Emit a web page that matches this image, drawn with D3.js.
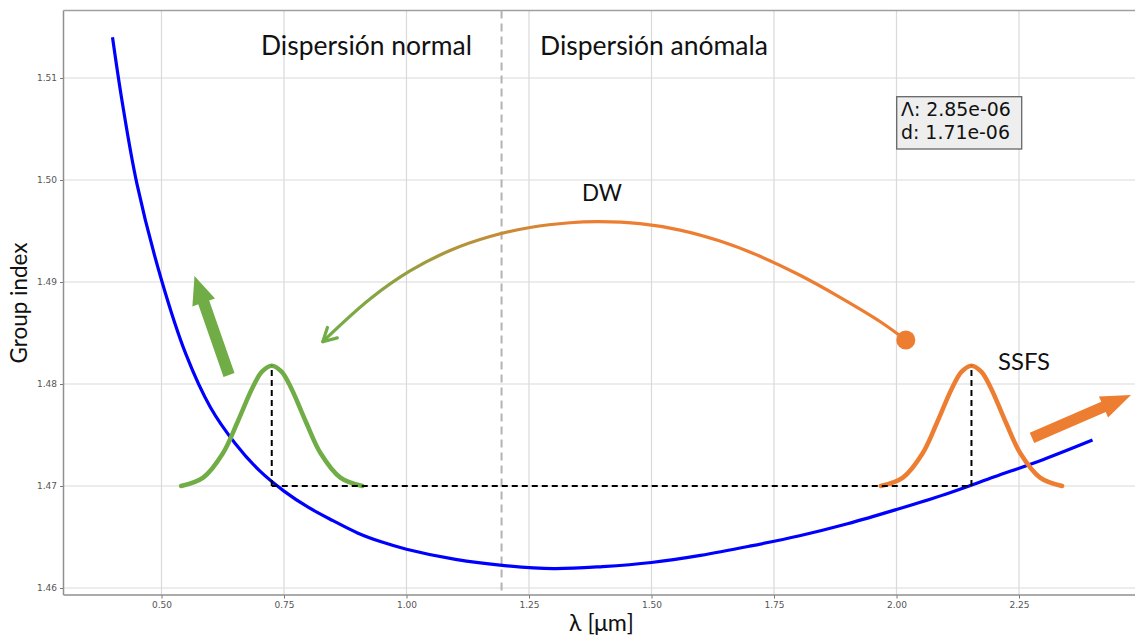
<!DOCTYPE html>
<html><head><meta charset="utf-8">
<script src="https://cdn.jsdelivr.net/npm/d3@7"></script>
<style>html,body{margin:0;padding:0;background:#fff;} svg{display:block;}</style>
</head><body>
<svg id="c" width="1135" height="637"></svg>
<script>
// ---- data ----
const lambda     = [0.40, 0.42, 0.45, 0.50, 0.55, 0.60, 0.65, 0.70, 0.75, 0.80, 0.85, 0.90, 0.95, 1.00, 1.10, 1.20, 1.30, 1.40, 1.50, 1.60, 1.70, 1.80, 1.90, 2.00, 2.10, 2.20, 2.30, 2.40];
const groupIndex = [1.5140, 1.5076, 1.4996, 1.4902, 1.4829, 1.4777, 1.4742, 1.4715, 1.4695, 1.4679, 1.4666, 1.4654, 1.4645, 1.4638, 1.4628, 1.4622, 1.4619, 1.4621, 1.4625, 1.4632, 1.4641, 1.4651, 1.4663, 1.4677, 1.4692, 1.4709, 1.4726, 1.4745];
const xTicks = [0.50, 0.75, 1.00, 1.25, 1.50, 1.75, 2.00, 2.25];
const yTicks = [1.46, 1.47, 1.48, 1.49, 1.50, 1.51];
const zdw = 1.194;
// pulses (DW green, soliton orange)
const pulseCenters = [0.725, 2.153];
const pulseBase = 1.47;
const pulsePeak = 1.4818;
const pulseOffset = [-0.185, -0.14, -0.10, -0.07, -0.04, -0.02, 0, 0.02, 0.04, 0.07, 0.10, 0.14, 0.185];
const pulseShape  = [0.0, 0.07, 0.27, 0.53, 0.81, 0.95, 1, 0.95, 0.81, 0.53, 0.27, 0.07, 0.0];
// DW arc path (lambda, n), from the orange dot to the green arrow tip
const arcLambda = [2.0190, 1.9663, 1.8847, 1.8031, 1.7214, 1.6398, 1.5582, 1.4765, 1.3924, 1.3337, 1.2520, 1.1704, 1.0888, 1.0071, 0.9255, 0.8292];
const arcIndex  = [1.48431, 1.48613, 1.48850, 1.49066, 1.49252, 1.49401, 1.49509, 1.49572, 1.49591, 1.49581, 1.49534, 1.49446, 1.49309, 1.49108, 1.48833, 1.48415];
// fat arrows [tail lambda, tail n, tip lambda, tip n]
const greenArrow  = [0.6378, 1.48088, 0.5673, 1.49059];
const orangeArrow = [2.2765, 1.47471, 2.4786, 1.47892];
const boxLines = ["Λ: 2.85e-06", "d: 1.71e-06"];

// ---- layout ----
const svg = d3.select("#c");
const L = 63.5, R = 1141.5, T = 10.5, B = 595;
const x = d3.scaleLinear().domain([0.3, 2.5]).range([L, R]);
const y = d3.scaleLinear().domain([1.459314, 1.516618]).range([B, T]);
const GREEN = "#70AD47", ORANGE = "#ED7D31";

// grid
const g = svg.append("g");
g.selectAll("line.gx").data(xTicks).join("line")
  .attr("x1", d => x(d)).attr("x2", d => x(d)).attr("y1", T).attr("y2", B)
  .attr("stroke", "#d9d9d9").attr("stroke-width", 1.2);
g.selectAll("line.gy").data(yTicks).join("line")
  .attr("x1", L).attr("x2", R).attr("y1", d => y(d)).attr("y2", d => y(d))
  .attr("stroke", "#d9d9d9").attr("stroke-width", 1.2);

// axes
const xa = svg.append("g").attr("transform", `translate(0,${B})`)
  .call(d3.axisBottom(x).tickValues(xTicks).tickFormat(d3.format(".2f")).tickSize(3.5).tickPadding(3));
const ya = svg.append("g").attr("transform", `translate(${L},0)`)
  .call(d3.axisLeft(y).tickValues(yTicks).tickFormat(d3.format(".2f")).tickSize(3.5).tickPadding(3));
[xa, ya].forEach(a => {
  a.select(".domain").remove();
  a.selectAll(".tick line").attr("stroke", "#777").attr("stroke-width", 1);
  a.selectAll(".tick text").attr("font-family", "DejaVu Sans").attr("font-size", 9).attr("fill", "#555");
});
// spines
svg.append("line").attr("x1", L).attr("x2", L).attr("y1", T).attr("y2", B).attr("stroke", "#8f8f8f").attr("stroke-width", 1.5);
svg.append("line").attr("x1", L).attr("x2", R).attr("y1", B).attr("y2", B).attr("stroke", "#8f8f8f").attr("stroke-width", 1.5);
svg.append("line").attr("x1", L).attr("x2", R).attr("y1", T).attr("y2", T).attr("stroke", "#a0a0a0").attr("stroke-width", 1.5);

// ZDW dashed line
svg.append("line").attr("x1", x(zdw)).attr("x2", x(zdw)).attr("y1", T).attr("y2", B)
  .attr("stroke", "#b3b3b3").attr("stroke-width", 2).attr("stroke-dasharray", "8,5");

// blue group index curve
const pts = lambda.map((l, i) => [l, groupIndex[i]]);
svg.append("path").datum(pts)
  .attr("d", d3.line().x(d => x(d[0])).y(d => y(d[1])).curve(d3.curveCatmullRom.alpha(0.5)))
  .attr("fill", "none").attr("stroke", "#0000ff").attr("stroke-width", 3.2);

// pulses
const pulseLine = d3.line().x(d => x(d[0])).y(d => y(d[1])).curve(d3.curveCatmullRom.alpha(0.5));
[GREEN, ORANGE].forEach((col, k) => {
  const c = pulseCenters[k];
  const p = pulseOffset.map((o, i) => [c + o, pulseBase + (pulsePeak - pulseBase) * pulseShape[i]]);
  svg.append("path").attr("d", pulseLine(p)).attr("fill", "none")
    .attr("stroke", col).attr("stroke-width", 4.5).attr("stroke-linecap", "round");
});

// black dashed lines
const dash = (x1, y1, x2, y2) => svg.append("line")
  .attr("x1", x(x1)).attr("y1", y(y1)).attr("x2", x(x2)).attr("y2", y(y2))
  .attr("stroke", "#000").attr("stroke-width", 2).attr("stroke-dasharray", "6,4");
dash(pulseCenters[0], pulseBase, pulseCenters[1], pulseBase);
dash(pulseCenters[0], pulseBase, pulseCenters[0], pulsePeak);
dash(pulseCenters[1], pulseBase, pulseCenters[1], pulsePeak);

// DW arc with gradient
const defs = svg.append("defs");
const grad = defs.append("linearGradient").attr("id", "arcg").attr("gradientUnits", "userSpaceOnUse")
  .attr("x1", x(0.84)).attr("x2", x(1.36)).attr("y1", 0).attr("y2", 0);
grad.append("stop").attr("offset", 0).attr("stop-color", GREEN);
grad.append("stop").attr("offset", 1).attr("stop-color", ORANGE);
const arcPts = arcLambda.map((l, i) => [x(l), y(arcIndex[i])]);
const arcPath = svg.append("path").attr("d", d3.line().curve(d3.curveCatmullRom.alpha(0.5))(arcPts))
  .attr("fill", "none").attr("stroke", "url(#arcg)").attr("stroke-width", 3.2).attr("stroke-linecap", "round");
// arrowhead at the green end
{
  const node = arcPath.node(), len = node.getTotalLength();
  const tip = node.getPointAtLength(len), pre = node.getPointAtLength(len - 8);
  const a = Math.atan2(tip.y - pre.y, tip.x - pre.x);
  const hl = 15, sp = 0.5;
  const b1 = [tip.x - hl * Math.cos(a - sp), tip.y - hl * Math.sin(a - sp)];
  const b2 = [tip.x - hl * Math.cos(a + sp), tip.y - hl * Math.sin(a + sp)];
  svg.append("path").attr("d", `M${b1[0]},${b1[1]}L${tip.x},${tip.y}L${b2[0]},${b2[1]}`)
    .attr("fill", "none").attr("stroke", GREEN).attr("stroke-width", 3.2)
    .attr("stroke-linecap", "round").attr("stroke-linejoin", "round");
}
// orange dot
svg.append("circle").attr("cx", x(arcLambda[0])).attr("cy", y(arcIndex[0])).attr("r", 9.5).attr("fill", ORANGE);

// fat arrows
function fatArrow(a, sw, hw, hl) {
  const x0 = x(a[0]), y0 = y(a[1]), x1 = x(a[2]), y1 = y(a[3]);
  const dx = x1 - x0, dy = y1 - y0, Ln = Math.hypot(dx, dy), ux = dx / Ln, uy = dy / Ln, px = -uy, py = ux;
  const bx = x1 - ux * hl, by = y1 - uy * hl;
  return [[x0 + px * sw, y0 + py * sw], [bx + px * sw, by + py * sw], [bx + px * hw, by + py * hw], [x1, y1],
          [bx - px * hw, by - py * hw], [bx - px * sw, by - py * sw], [x0 - px * sw, y0 - py * sw]];
}
svg.append("polygon").attr("points", fatArrow(greenArrow, 5.8, 12, 28).join(" ")).attr("fill", GREEN);
svg.append("polygon").attr("points", fatArrow(orangeArrow, 5.6, 11.5, 30).join(" ")).attr("fill", ORANGE);

// annotation texts (fit to measured widths)
function fitText(txt, x0, yb, w, fam, size) {
  const t = svg.append("text").attr("x", x0).attr("y", yb).attr("font-family", fam)
    .attr("font-size", size).attr("fill", "#111").text(txt);
  const cur = t.node().getComputedTextLength();
  t.attr("font-size", size * w / cur);
  return t;
}
const FAM = "Lato, 'Open Sans', sans-serif";
fitText("Dispersión normal", 261, 55, 211, FAM, 24);
fitText("Dispersión anómala", 540, 55, 228, FAM, 24);
fitText("DW", 582, 201, 40, FAM, 24);
fitText("SSFS", 998, 370, 52, FAM, 24);

// axis labels
{
  const t = svg.append("text").attr("transform", `translate(27,303) rotate(-90)`).attr("text-anchor", "middle")
    .attr("font-family", FAM).attr("font-size", 20).attr("fill", "#111").text("Group index");
  const cur = t.node().getComputedTextLength(); t.attr("font-size", 20 * 121 / cur);
}
fitText("λ [μm]", 569, 631, 65, FAM, 20);

// parameter box
svg.append("rect").attr("x", 896.7).attr("y", 96.7).attr("width", 125).attr("height", 52.3)
  .attr("fill", "#eeeeee").attr("stroke", "#666").attr("stroke-width", 1.3);
boxLines.forEach((s, i) => {
  svg.append("text").attr("x", 901).attr("y", 116.2 + i * 22.3).attr("font-family", "DejaVu Sans")
    .attr("font-size", 18.9).attr("fill", "#111").text(s);
});
</script>
</body></html>
